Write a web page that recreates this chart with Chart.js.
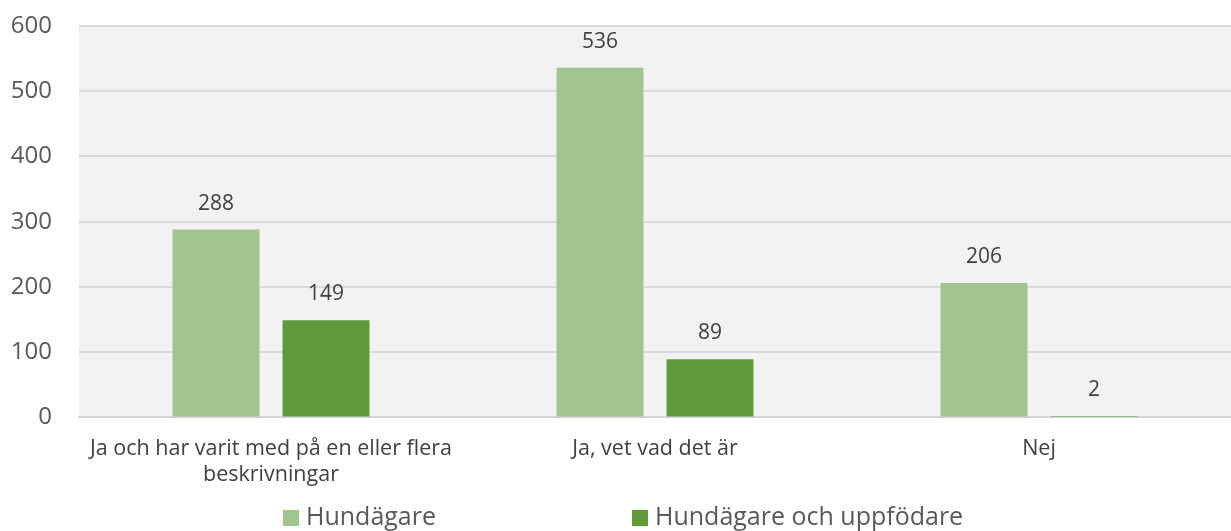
<!DOCTYPE html>
<html lang="sv">
<head>
    <meta charset="UTF-8">
    <title>Hundägare</title>
    <script src="https://cdn.jsdelivr.net/npm/chart.js"></script>
    <style>
        html, body { margin: 0; padding: 0; background: #ffffff; }
        #wrap { width: 1231px; height: 531px; }
    </style>
</head>
<body>
<div id="wrap"><canvas id="chart" width="1231" height="531"></canvas></div>
<script>
    // Data
    const categories = [['Ja och har varit med på en eller flera', 'beskrivningar'], 'Ja, vet vad det är', 'Nej'];
    const seriesNames = ['Hundägare', 'Hundägare och uppfödare'];
    const hundagare = [288, 536, 206];
    const uppfodare = [149, 89, 2];
    const yTicks = [0, 100, 200, 300, 400, 500, 600];

    const colors = ['#a1c490', '#5f9a3a'];
    const font = '"Open Sans", "Noto Sans", sans-serif';

    // plot background
    const plotBg = {
        id: 'plotBg',
        beforeDraw(chart) {
            const a = chart.chartArea, ctx = chart.ctx;
            ctx.save();
            ctx.fillStyle = '#f2f2f2';
            ctx.fillRect(a.left, a.top, a.right - a.left, a.bottom - a.top);
            ctx.restore();
        }
    };

    // value labels above bars
    const valueLabels = {
        id: 'valueLabels',
        afterDatasetsDraw(chart) {
            const ctx = chart.ctx;
            ctx.save();
            ctx.font = '21px ' + font;
            ctx.fillStyle = '#404040';
            ctx.textAlign = 'center';
            ctx.textBaseline = 'middle';
            chart.data.datasets.forEach((ds, i) => {
                chart.getDatasetMeta(i).data.forEach((bar, j) => {
                    ctx.fillText(ds.data[j], bar.x, bar.y - 26);
                });
            });
            ctx.restore();
        }
    };

    // legend at bottom, spaced like the original
    const bottomLegend = {
        id: 'bottomLegend',
        afterDraw(chart) {
            const ctx = chart.ctx;
            const xs = [283, 632];
            ctx.save();
            ctx.font = '25px ' + font;
            ctx.textBaseline = 'middle';
            seriesNames.forEach((name, i) => {
                ctx.fillStyle = colors[i];
                ctx.fillRect(xs[i], 510, 16, 16);
                ctx.fillStyle = '#595959';
                ctx.fillText(name, xs[i] + 23, 518);
            });
            ctx.restore();
        }
    };

    new Chart(document.getElementById('chart'), {
        type: 'bar',
        data: {
            labels: categories,
            datasets: [
                { label: seriesNames[0], data: hundagare, backgroundColor: colors[0] },
                { label: seriesNames[1], data: uppfodare, backgroundColor: colors[1] }
            ]
        },
        options: {
            responsive: false,
            animation: false,
            events: [],
            categoryPercentage: 0.573,
            barPercentage: 0.79,
            layout: { padding: { top: 26, right: 0, bottom: 24, left: 0 } },
            plugins: { legend: { display: false }, tooltip: { enabled: false } },
            scales: {
                x: {
                    grid: { display: false, drawTicks: false },
                    border: { color: '#d4d4d4', width: 2 },
                    afterFit(axis) { axis.paddingLeft = 0; axis.paddingRight = 0; },
                    ticks: {
                        color: '#404040',
                        font: { family: font, size: 21.5 },
                        padding: 19,
                        maxRotation: 0,
                        autoSkip: false
                    }
                },
                y: {
                    min: 0,
                    max: 600,
                    afterBuildTicks(axis) { axis.ticks = yTicks.map(v => ({ value: v })); },
                    afterFit(axis) {
                        axis.width = 79;
                        axis.paddingTop = 0;
                        axis.paddingBottom = 0;
                    },
                    grid: { color: '#d9d9d9', lineWidth: 2, drawTicks: false },
                    border: { display: false },
                    ticks: {
                        color: '#595959',
                        font: { family: font, size: 24 },
                        padding: 27
                    }
                }
            }
        },
        plugins: [plotBg, valueLabels, bottomLegend]
    });
</script>
</body>
</html>
